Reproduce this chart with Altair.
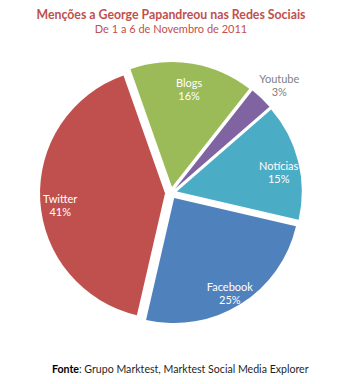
import altair as alt
import pandas as pd

# ---- data ----
categories = ["Youtube", "Notícias", "Facebook", "Twitter", "Blogs"]
values = [3, 15, 25, 41, 16]
colors = ["#8064A2", "#4BACC6", "#4F81BD", "#C0504D", "#9BBB59"]
label_colors = ["#7F7F7F", "#FFFFFF", "#FFFFFF", "#FFFFFF", "#FFFFFF"]

title_text = ["Menções a George Papandreou nas Redes Sociais"]
subtitle_text = ["De 1 a 6 de Novembro de 2011"]
source_bold = ["Fonte"]
source_rest = [": Grupo Marktest, Marktest Social Media Explorer"]

FONT = "Lato"
W, H = 351, 384
CX, CY = 171, 193      # pie centre (px)
R = 125                # pie radius
EXPLODE = 6            # slice explosion distance
START = 38.2           # degrees, first slice start (clockwise from 12 o'clock)

df = pd.DataFrame({
    "cat": categories,
    "value": values,
    "order": list(range(len(categories))),
    "lcolor": label_colors,
})

base = (
    alt.Chart(df)
    .transform_window(cum="sum(value)", sort=[alt.SortField("order")], frame=[None, 0])
    .transform_joinaggregate(total="sum(value)")
    .transform_calculate(
        t0=f"{START}*PI/180 + 2*PI*(datum.cum - datum.value)/datum.total",
        t1=f"{START}*PI/180 + 2*PI*datum.cum/datum.total",
    )
    .transform_calculate(mid="(datum.t0 + datum.t1)/2")
    .transform_calculate(
        px=f"{CX} + {EXPLODE}*sin(datum.mid)",
        py=f"{CY} - {EXPLODE}*cos(datum.mid)",
        lr="datum.value < 5 ? 151 : 105",
        label="datum.cat + '|' + datum.value + '%'",
    )
    .transform_calculate(
        lx="datum.px + datum.lr*sin(datum.mid)",
        ly="datum.py - datum.lr*cos(datum.mid) + 1",
    )
)

arcs = base.mark_arc(radius=R, stroke=None).encode(
    theta=alt.Theta("t0:Q", scale=None),
    theta2="t1:Q",
    x=alt.X("px:Q", scale=None),
    y=alt.Y("py:Q", scale=None),
    color=alt.Color("cat:N", scale=alt.Scale(domain=categories, range=colors), legend=None),
)

labels = base.mark_text(
    font=FONT, fontSize=11, lineBreak="|", lineHeight=13, align="center", baseline="middle"
).encode(
    x=alt.X("lx:Q", scale=None),
    y=alt.Y("ly:Q", scale=None),
    text="label:N",
    color=alt.Color("lcolor:N", scale=None),
)

title = alt.Chart(pd.DataFrame({"t": title_text})).mark_text(
    font=FONT, fontSize=12.3, fontWeight="bold", color="#C0504D", align="center", baseline="middle"
).encode(text="t:N", x=alt.value(171), y=alt.value(15))

subtitle = alt.Chart(pd.DataFrame({"t": subtitle_text})).mark_text(
    font=FONT, fontSize=11, color="#C0504D", align="center", baseline="middle"
).encode(text="t:N", x=alt.value(171), y=alt.value(30))

src1 = alt.Chart(pd.DataFrame({"t": source_bold})).mark_text(
    font=FONT, fontSize=10.6, fontWeight="bold", color="#000000", align="right", baseline="middle"
).encode(text="t:N", x=alt.value(79), y=alt.value(370))

src2 = alt.Chart(pd.DataFrame({"t": source_rest})).mark_text(
    font=FONT, fontSize=10.6, color="#1F1F1F", align="left", baseline="middle"
).encode(text="t:N", x=alt.value(79), y=alt.value(370))

chart = (
    alt.layer(arcs, labels, title, subtitle, src1, src2)
    .properties(width=W, height=H, autosize=alt.AutoSizeParams(type="none"), padding=0,
                background="#FFFFFF")
    .configure_view(stroke=None)
)

chart.save("out.html", embed_options={"renderer": "svg", "actions": False})
